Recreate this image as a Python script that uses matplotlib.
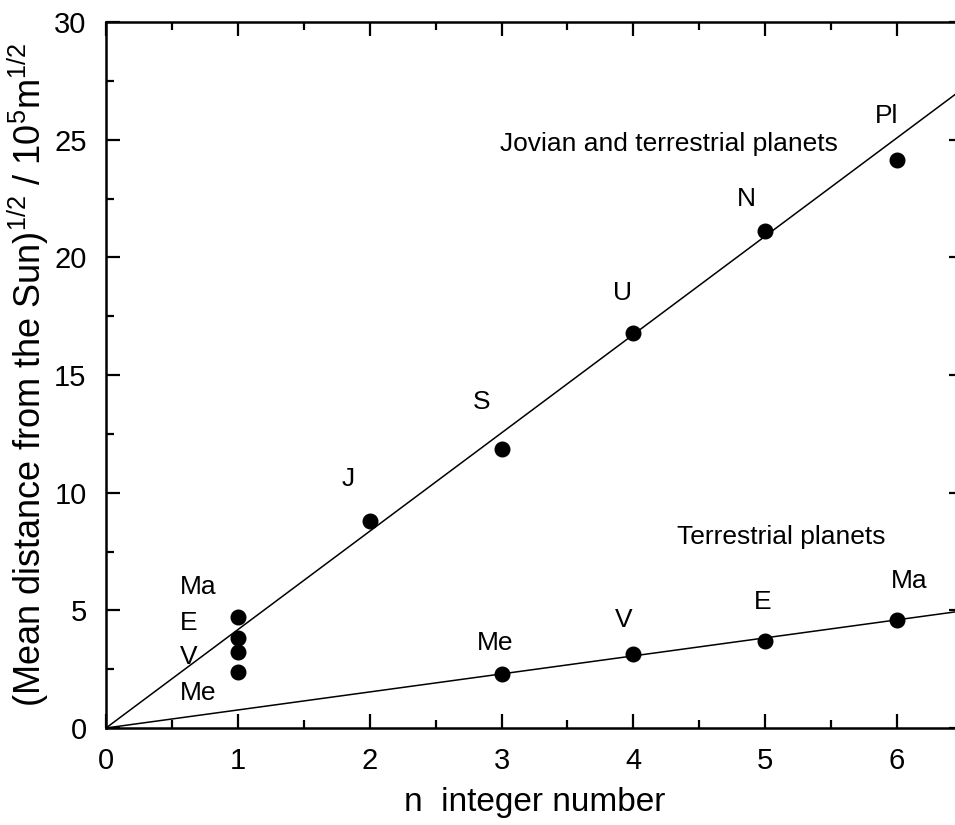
import numpy as np
import matplotlib.pyplot as plt
from matplotlib.ticker import MultipleLocator

plt.rcParams['font.family'] = ['Liberation Sans', 'DejaVu Sans']
plt.rcParams['mathtext.fontset'] = 'custom'
plt.rcParams['mathtext.rm'] = 'Liberation Sans'
plt.rcParams['mathtext.it'] = 'Liberation Sans'

# Jovian and terrestrial planets (upper line)
jov_names = ['J', 'S', 'U', 'N', 'Pl']
jov_n = [2, 3, 4, 5, 6]
jov_d = [8.8, 11.86, 16.8, 21.1, 24.14]

# terrestrial planets stacked at n = 1
t1_names = ['Me', 'V', 'E', 'Ma']
t1_n = [1, 1, 1, 1]
t1_d = [2.37, 3.22, 3.81, 4.70]

# Terrestrial planets (lower line)
ter_names = ['Me', 'V', 'E', 'Ma']
ter_n = [3, 4, 5, 6]
ter_d = [2.30, 3.14, 3.70, 4.59]

slope_upper = 4.18
slope_lower = 0.766

fig = plt.figure(figsize=(9.55, 8.25), dpi=100)
ax = fig.add_axes([106 / 955, 1 - 728 / 825, 857 / 955, 706 / 825])

xs = np.array([0, 6.5])
ax.plot(xs, slope_upper * xs, color='black', lw=1.1)
ax.plot(xs, slope_lower * xs, color='black', lw=1.1)

dot = dict(marker='o', ls='none', color='black', markersize=10.5)
ax.plot(jov_n, jov_d, **dot)
ax.plot(t1_n, t1_d, **dot)
ax.plot(ter_n, ter_d, **dot)

fs = 19
# labels for the upper line
for name, x, y in zip(jov_names, [1.84, 2.85, 3.92, 4.86, 5.92],
                      [10.6, 13.85, 18.5, 22.5, 26.0]):
    ax.text(x, y, name, fontsize=fs, ha='center', va='center')
# labels for the n = 1 stack
for name, y in zip(t1_names, [1.49, 3.02, 4.46, 6.0]):
    ax.text(0.56, y, name, fontsize=fs, ha='left', va='center')
# labels for the lower line
for name, x, y in zip(ter_names, [2.95, 3.93, 4.98, 6.09],
                      [3.6, 4.6, 5.36, 6.25]):
    ax.text(x, y, name, fontsize=fs, ha='center', va='center')

ax.text(2.99, 24.8, 'Jovian and terrestrial planets', fontsize=fs,
        ha='left', va='center')
ax.text(4.33, 8.12, 'Terrestrial planets', fontsize=fs,
        ha='left', va='center')

ax.set_xlim(0, 6.5)
ax.set_ylim(0, 30)
ax.xaxis.set_major_locator(MultipleLocator(1))
ax.xaxis.set_minor_locator(MultipleLocator(0.5))
ax.yaxis.set_major_locator(MultipleLocator(5))
ax.yaxis.set_minor_locator(MultipleLocator(2.5))
ax.tick_params(which='both', direction='in', top=True, right=True,
               width=1.6, labelsize=21)
ax.tick_params(which='major', length=10, pad=14)
ax.tick_params(which='minor', length=6)
for s in ax.spines.values():
    s.set_linewidth(1.8)

ax.set_xlabel('n  integer number', fontsize=24, labelpad=8)
ax.set_ylabel('(Mean distance from the Sun)$^{1/2}$ / 10$^5$m$^{1/2}$',
              fontsize=26, labelpad=2)

fig.savefig('out.png', dpi=100)
